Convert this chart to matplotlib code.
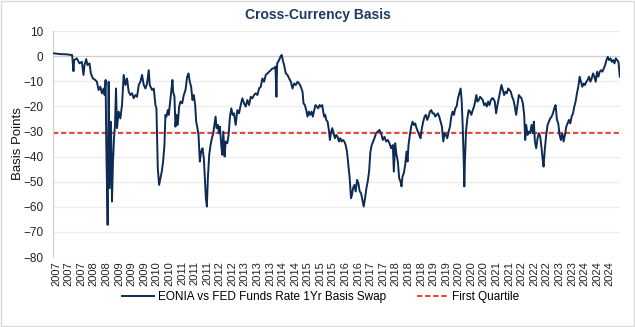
import matplotlib
matplotlib.use("Agg")
import matplotlib.pyplot as plt
import matplotlib.dates as mdates
import pandas as pd
import numpy as np

# ---- data ----
years = [
    2007.036, 2007.229, 2007.444, 2007.615, 2007.658, 2007.680, 2007.766, 2007.851, 2007.927, 2007.980,
    2008.012, 2008.066, 2008.109, 2008.173, 2008.216, 2008.281, 2008.356, 2008.409, 2008.463, 2008.517,
    2008.570, 2008.624, 2008.656, 2008.688, 2008.710, 2008.753, 2008.785, 2008.817, 2008.860, 2008.892,
    2008.925, 2008.957, 2008.989, 2009.021, 2009.053, 2009.107, 2009.161, 2009.214, 2009.268, 2009.322,
    2009.375, 2009.429, 2009.483, 2009.536, 2009.590, 2009.644, 2009.697, 2009.751, 2009.805, 2009.858,
    2009.912, 2009.966, 2010.019, 2010.073, 2010.105, 2010.180, 2010.234, 2010.288, 2010.320, 2010.363,
    2010.406, 2010.449, 2010.491, 2010.534, 2010.577, 2010.609,
    2010.641, 2010.684, 2010.716, 2010.749, 2010.791, 2010.834, 2010.856, 2010.899, 2010.931, 2010.963,
    2011.006, 2011.049, 2011.092, 2011.146, 2011.199, 2011.253, 2011.307, 2011.349, 2011.392, 2011.435,
    2011.478, 2011.521, 2011.564, 2011.596, 2011.629, 2011.671, 2011.714, 2011.757, 2011.800, 2011.843,
    2011.875, 2011.908, 2011.940, 2011.972, 2012.015, 2012.058, 2012.101, 2012.144, 2012.187, 2012.219,
    2012.251, 2012.294, 2012.326, 2012.358, 2012.401, 2012.433, 2012.466, 2012.509, 2012.541, 2012.594,
    2012.637, 2012.680, 2012.723, 2012.766, 2012.809, 2012.863, 2012.916, 2012.970, 2013.024, 2013.077,
    2013.131, 2013.185, 2013.238, 2013.292, 2013.346, 2013.399, 2013.453, 2013.507, 2013.560, 2013.614,
    2013.668, 2013.721, 2013.775, 2013.829, 2013.882, 2013.936, 2013.990, 2014.043, 2014.097,
    2014.140, 2014.172, 2014.194, 2014.258, 2014.312, 2014.344, 2014.376, 2014.419, 2014.473, 2014.527,
    2014.580, 2014.634, 2014.688, 2014.741, 2014.795, 2014.849, 2014.902, 2014.956, 2015.010, 2015.042,
    2015.085, 2015.128, 2015.171, 2015.213, 2015.256, 2015.299, 2015.342, 2015.385, 2015.428, 2015.471,
    2015.514, 2015.557, 2015.600, 2015.643, 2015.675, 2015.707, 2015.739, 2015.772, 2015.814, 2015.857,
    2015.890, 2015.922, 2015.965, 2016.008, 2016.051, 2016.094, 2016.136, 2016.179, 2016.222, 2016.265,
    2016.308, 2016.351, 2016.394, 2016.437, 2016.480, 2016.523, 2016.566, 2016.598, 2016.630, 2016.673,
    2016.716, 2016.759, 2016.802, 2016.845, 2016.888, 2016.931, 2016.973, 2017.016, 2017.059, 2017.102,
    2017.145, 2017.188, 2017.231, 2017.274, 2017.317, 2017.371, 2017.424, 2017.478, 2017.532,
    2017.586, 2017.639, 2017.693, 2017.747, 2017.800, 2017.854, 2017.908, 2017.940, 2017.983, 2018.026,
    2018.069, 2018.112, 2018.154, 2018.187, 2018.219, 2018.262, 2018.305, 2018.348, 2018.380, 2018.412,
    2018.455, 2018.498, 2018.541, 2018.584, 2018.627, 2018.670, 2018.713, 2018.755, 2018.798, 2018.841,
    2018.884, 2018.927, 2018.970, 2019.013, 2019.056, 2019.099, 2019.142, 2019.185, 2019.228, 2019.271,
    2019.313, 2019.356, 2019.399, 2019.442, 2019.485, 2019.528, 2019.571, 2019.614, 2019.657, 2019.700,
    2019.743, 2019.786, 2019.829, 2019.872, 2019.914, 2019.957, 2020.000, 2020.043, 2020.086, 2020.118,
    2020.151, 2020.183, 2020.204, 2020.226, 2020.258, 2020.301, 2020.344, 2020.387, 2020.430, 2020.473,
    2020.516, 2020.559, 2020.591, 2020.623, 2020.666, 2020.709, 2020.752, 2020.795, 2020.838, 2020.880,
    2020.923, 2020.966, 2021.009, 2021.052, 2021.095,
    2021.127, 2021.180, 2021.223, 2021.266, 2021.309, 2021.352, 2021.395, 2021.438, 2021.481, 2021.524,
    2021.567, 2021.610, 2021.653, 2021.695, 2021.738, 2021.781, 2021.824, 2021.867, 2021.910, 2021.953,
    2021.996, 2022.039, 2022.082, 2022.125, 2022.157, 2022.189, 2022.232, 2022.275, 2022.318, 2022.361,
    2022.404, 2022.436, 2022.468, 2022.511, 2022.554, 2022.597, 2022.640, 2022.683, 2022.715, 2022.747,
    2022.790, 2022.833, 2022.876, 2022.919, 2022.962, 2023.005, 2023.048, 2023.091, 2023.134, 2023.177,
    2023.219, 2023.262, 2023.305, 2023.348, 2023.391, 2023.434, 2023.477, 2023.520, 2023.563, 2023.606,
    2023.649, 2023.692, 2023.735, 2023.777, 2023.820, 2023.863, 2023.906, 2023.949, 2023.992, 2024.035,
    2024.078, 2024.121, 2024.164, 2024.207, 2024.250, 2024.293, 2024.336, 2024.379, 2024.421, 2024.464,
    2024.507, 2024.550, 2024.593, 2024.636, 2024.679, 2024.722, 2024.765, 2024.808, 2024.851, 2024.894,
    2024.937, 2024.980, 2025.022, 2025.065, 2025.108, 2025.151, 2025.194,
]
basis = [
    1.1, 0.8, 0.7, 0.4, -6.0, -1.6, -0.9, -2.9, -2.3, -7.5,
    -3.6, -1.2, -3.6, -2.9, -6.9, -8.9, -9.5, -10.2, -13.5, -12.2,
    -14.8, -12.9, -15.5, -9.5, -35.4, -67.2, -10.2, -52.6, -26.1, -57.9,
    -42.0, -32.7, -27.4, -12.9, -28.7, -22.1, -24.8, -19.5, -7.5, -11.5,
    -8.9, -14.2, -15.5, -14.8, -16.8, -15.5, -16.2, -11.5, -10.2, -7.5,
    -11.5, -12.9, -10.9, -5.6, -11.5, -13.5, -12.9, -19.5, -20.8, -44.6,
    -51.3, -48.6, -46.0, -42.0, -35.4, -23.4,
    -24.1, -21.5, -23.4, -19.5, -14.8, -9.5, -14.2, -16.2, -28.1, -23.4,
    -27.4, -20.1, -18.1, -18.8, -15.5, -13.5, -8.2, -6.9, -10.2, -12.2,
    -17.5, -15.5, -19.5, -26.1, -28.1, -31.4, -42.0, -38.0, -36.7, -40.7,
    -48.6, -56.6, -59.9, -48.6, -39.3, -35.4, -32.7, -30.7, -26.8, -24.1,
    -28.7, -27.4, -30.7, -28.1, -35.4, -39.3, -30.1, -40.0, -34.0, -34.7,
    -31.4, -24.1, -20.8, -23.4, -22.8, -27.4, -21.5, -22.8, -19.5, -16.8,
    -18.8, -20.1, -17.5, -19.5, -16.2, -16.8, -15.5, -14.8, -15.5, -12.9,
    -12.2, -8.9, -10.2, -7.5, -6.9, -6.2, -5.6, -4.9, -4.9,
    -4.2, -16.2, -2.9, -1.6, 0.1, 0.4, -1.6, -3.6, -6.9, -7.5,
    -8.9, -10.2, -12.9, -10.9, -11.5, -10.2, -10.9, -12.2, -14.2, -18.8,
    -19.5, -21.5, -24.1, -22.1, -23.4, -22.1, -24.1, -21.5, -19.5, -20.1,
    -20.8, -19.5, -20.1, -19.5, -22.1, -24.1, -23.4, -25.4, -26.1, -29.4,
    -33.4, -30.7, -28.7, -30.7, -32.7, -31.4, -32.1, -34.0, -32.7, -34.0,
    -33.4, -34.0, -35.4, -38.0, -43.3, -48.6, -56.6, -55.2, -52.6, -51.3,
    -53.9, -49.3, -50.6, -53.9, -54.6, -57.2, -59.9, -56.6, -52.6, -49.9,
    -46.0, -38.0, -35.4, -34.0, -32.7, -30.7, -30.1, -29.4, -30.7,
    -33.4, -32.1, -34.0, -33.4, -34.7, -36.7, -35.4, -46.0, -34.7, -39.3,
    -42.0, -48.6, -49.9, -51.9, -47.9, -46.6, -43.3, -38.0, -42.0, -35.4,
    -31.4, -28.1, -26.1, -27.4, -26.8, -28.7, -30.1, -31.4, -32.7, -28.7,
    -26.1, -24.1, -23.4, -25.4, -24.1, -22.1, -21.5, -22.8, -22.8, -24.1,
    -23.4, -22.8, -24.1, -26.1, -28.1, -34.0, -30.7, -31.4, -32.7, -30.1,
    -28.1, -24.1, -22.1, -23.4, -20.8, -20.1, -16.8, -14.8, -12.9, -17.5,
    -27.4, -40.7, -51.9, -40.7, -30.1, -24.8, -21.5, -22.1, -23.4, -21.5,
    -20.1, -17.5, -15.5, -18.1, -17.5, -16.2, -16.8, -17.5, -19.5, -18.8,
    -20.1, -18.1, -19.5, -17.5, -16.8,
    -16.8, -18.1, -22.8, -19.5, -16.8, -14.2, -11.5, -13.5, -15.5, -14.2,
    -14.8, -12.9, -13.5, -14.2, -16.2, -17.5, -20.1, -23.4, -19.5, -15.5,
    -16.2, -16.8, -18.8, -23.4, -33.4, -27.4, -31.4, -30.1, -30.7, -27.4,
    -30.7, -26.1, -34.0, -36.7, -32.7, -30.7, -32.1, -36.7, -40.7, -44.0,
    -36.7, -31.4, -27.4, -26.1, -24.8, -24.1, -22.8, -20.8, -19.5, -25.4,
    -26.8, -31.4, -33.4, -30.7, -34.0, -31.4, -28.1, -26.8, -25.4, -26.8,
    -24.1, -22.8, -20.1, -18.1, -14.8, -12.2, -8.2, -10.2, -12.2, -10.9,
    -11.5, -10.2, -9.5, -8.2, -10.2, -8.9, -6.9, -8.2, -10.2, -6.2,
    -8.2, -6.2, -5.6, -6.2, -4.9, -3.6, -1.6, -0.3, -1.6, -0.9,
    -2.3, -1.6, -2.9, -0.9, -1.6, -2.3, -8.2,
]
first_quartile = -30.7
series_label = "EONIA vs FED Funds Rate 1Yr Basis Swap"
quartile_label = "First Quartile"
title = "Cross-Currency Basis"
y_label = "Basis Points"
y_ticks = [10, 0, -10, -20, -30, -40, -50, -60, -70, -80]
tick_start = "2007-02-07"
tick_step_days = 147.5
n_ticks = 45


def to_date(y):
    yr = int(np.floor(y))
    start = pd.Timestamp(year=yr, month=1, day=1)
    end = pd.Timestamp(year=yr + 1, month=1, day=1)
    return start + (end - start) * (y - yr)


dates = [to_date(y) for y in years]

plt.rcParams['font.family'] = ['Liberation Sans', 'DejaVu Sans']

fig = plt.figure(figsize=(6.35, 3.27), dpi=100)
ax = fig.add_axes([53 / 635, 1 - 257 / 327, (620 - 53) / 635, (257 - 31) / 327])

navy = "#0d2b55"
red = "#e8483b"

for yv in y_ticks:
    ax.axhline(yv, color="#cfcfcf" if yv == 0 else "#ececec", lw=0.9, zorder=0)

ax.plot(dates, basis, color=navy, lw=1.4, label=series_label, zorder=3, solid_joinstyle="round")
ax.axhline(first_quartile, color=red, lw=1.5, dashes=(2.5, 1.4), label=quartile_label, zorder=2)

ax.set_ylim(-80, 10)
ax.set_yticks(y_ticks)
ax.set_xlim(to_date(2007.0), to_date(2025.2))

ticks = [pd.Timestamp(tick_start) + pd.Timedelta(days=tick_step_days * k) for k in range(n_ticks)]
ax.set_xticks(ticks)
ax.xaxis.set_major_formatter(mdates.DateFormatter("%Y"))
ax.tick_params(axis="x", rotation=90, labelsize=8, length=0, pad=3, colors="#222222")
ax.tick_params(axis="y", labelsize=8.5, length=0, pad=7, colors="#222222")

for s in ["top", "right", "bottom"]:
    ax.spines[s].set_visible(False)
ax.spines["left"].set_color("#d0d0d0")
ax.spines["left"].set_linewidth(0.9)

ax.set_ylabel(y_label, fontsize=9.5, color="#111111")
ax.yaxis.set_label_coords((24 - 53) / 567, 0.5)
fig.text(0.5, 1 - 15 / 327, title, ha="center", va="center", fontsize=10,
         fontweight="bold", color="#1f3864")

leg = fig.legend(loc="center", bbox_to_anchor=(0.505, 1 - 297 / 327), ncol=2, frameon=False,
                 fontsize=8.5, handlelength=2.7, columnspacing=2.6, handletextpad=0.3)

fig.patches.append(plt.Rectangle((0.002, 0.003), 0.996, 0.994, transform=fig.transFigure,
                                 fill=False, edgecolor="#d9d9d9", lw=1.0))

fig.savefig("out.png", dpi=100)
